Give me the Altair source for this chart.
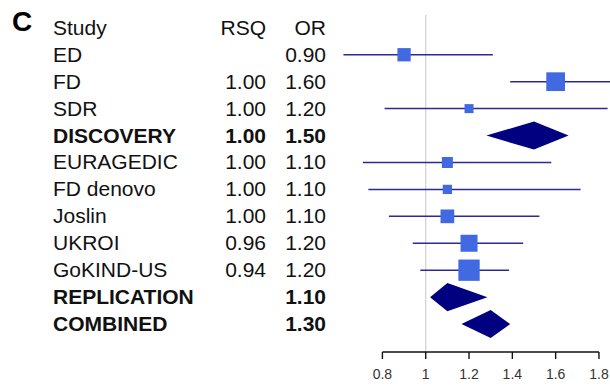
import altair as alt
import pandas as pd

# ---- data ----
studies = ["ED", "FD", "SDR", "DISCOVERY", "EURAGEDIC", "FD denovo", "Joslin",
           "UKROI", "GoKIND-US", "REPLICATION", "COMBINED"]
rsq_text = ["", "1.00", "1.00", "1.00", "1.00", "1.00", "1.00", "0.96", "0.94", "", ""]
or_text = ["0.90", "1.60", "1.20", "1.50", "1.10", "1.10", "1.10", "1.20", "1.20", "1.10", "1.30"]
or_est = [0.90, 1.60, 1.20, 1.50, 1.10, 1.10, 1.10, 1.20, 1.20, 1.10, 1.30]
ci_low = [0.62, 1.39, 0.81, 1.28, 0.71, 0.735, 0.83, 0.94, 0.975, 1.02, 1.165]
ci_high = [1.31, 1.95, 1.84, 1.66, 1.58, 1.715, 1.525, 1.45, 1.385, 1.285, 1.39]
weights = [17.7, 35.0, 8.1, None, 12.1, 8.6, 18.8, 28.9, 45.4, None, None]
is_summary = [False, False, False, True, False, False, False, False, False, True, True]
headers = ["Study", "RSQ", "OR"]
tick_values = [0.8, 1.0, 1.2, 1.4, 1.6, 1.8]
tick_labels = ["0.8", "1", "1.2", "1.4", "1.6", "1.8"]
ref_value = 1.0

W, H = 610, 386
AXIS_Y = 352
rows = list(range(1, len(studies) + 1))

df = pd.DataFrame({
    "study": studies, "rsq": rsq_text, "ortxt": or_text, "est": or_est,
    "lo": ci_low, "hi": ci_high, "w": weights, "summary": is_summary, "row": rows,
})

xs = alt.Scale(domain=[-0.966, 1.851], nice=False, zero=False)
ys = alt.Scale(domain=[-1.033, 13.30], reverse=True, nice=False, zero=False)

X = lambda f: alt.X(f, type="quantitative", scale=xs, axis=None)
Y = lambda f: alt.Y(f, type="quantitative", scale=ys, axis=None)

indiv = df[~df["summary"]]
summ = df[df["summary"]]

# diamonds as area polygons
half = 0.52
drows = []
for _, r in summ.iterrows():
    drows.append({"study": r["study"], "x": r["lo"], "y1": r["row"], "y2": r["row"]})
    drows.append({"study": r["study"], "x": r["est"], "y1": r["row"] - half, "y2": r["row"] + half})
    drows.append({"study": r["study"], "x": r["hi"], "y1": r["row"], "y2": r["row"]})
ddf = pd.DataFrame(drows)

ref = alt.Chart(pd.DataFrame({"v": [ref_value]})).mark_rule(
    color="#d0d0d0", strokeWidth=1.2
).encode(x=X("v:Q"), y=alt.value(15), y2=alt.value(AXIS_Y))

ci = alt.Chart(indiv).mark_rule(color="#2a2a9c", strokeWidth=1.5, clip=True).encode(
    x=X("lo:Q"), x2="hi:Q", y=Y("row:Q")
)

sq = alt.Chart(indiv).mark_square(color="#4169E1", opacity=1, filled=True, clip=True).encode(
    x=X("est:Q"), y=Y("row:Q"),
    size=alt.Size("w:Q", scale=alt.Scale(domain=[0, 45.4], range=[0, 454]), legend=None),
)

dia = alt.Chart(ddf).mark_area(color="#000080", orient="vertical").encode(
    x=X("x:Q"), y=Y("y1:Q"), y2="y2:Q", detail="study:N",
)

tdf = pd.DataFrame({"v": tick_values, "lab": tick_labels})
axis_line = alt.Chart(pd.DataFrame({"a": [min(tick_values)], "b": [max(tick_values)]})).mark_rule(
    color="#111111", strokeWidth=1.4
).encode(x=X("a:Q"), x2="b:Q", y=alt.value(AXIS_Y))
ticks = alt.Chart(tdf).mark_rule(color="#111111", strokeWidth=1.4).encode(
    x=X("v:Q"), y=alt.value(AXIS_Y), y2=alt.value(AXIS_Y + 7))
tick_text = alt.Chart(tdf).mark_text(
    font="Liberation Sans", fontSize=14, color="#333333", baseline="middle", align="center"
).encode(x=X("v:Q"), y=alt.value(AXIS_Y + 23), text="lab:N")

font = "Liberation Sans"
fs = 21
txt_kw = dict(font=font, fontSize=fs, color="#111111", baseline="middle", dy=1)

hdr = alt.Chart(pd.DataFrame({"h": headers, "row": [0, 0, 0]}))
hdr_study = hdr.transform_filter("datum.h == 'Study'").mark_text(align="left", **txt_kw).encode(
    x=alt.value(53), y=Y("row:Q"), text="h:N")
hdr_rsq = hdr.transform_filter("datum.h == 'RSQ'").mark_text(align="right", **txt_kw).encode(
    x=alt.value(266), y=Y("row:Q"), text="h:N")
hdr_or = hdr.transform_filter("datum.h == 'OR'").mark_text(align="right", **txt_kw).encode(
    x=alt.value(326), y=Y("row:Q"), text="h:N")

layers = [ref, ci, sq, dia, axis_line, ticks, tick_text, hdr_study, hdr_rsq, hdr_or]
for flag, weight in [(False, "normal"), (True, "bold")]:
    sub = alt.Chart(df[df["summary"] == flag])
    layers.append(sub.mark_text(align="left", fontWeight=weight, **txt_kw).encode(
        x=alt.value(53), y=Y("row:Q"), text="study:N"))
    layers.append(sub.mark_text(align="right", fontWeight=weight, **txt_kw).encode(
        x=alt.value(266), y=Y("row:Q"), text="rsq:N"))
    layers.append(sub.mark_text(align="right", fontWeight=weight, **txt_kw).encode(
        x=alt.value(326), y=Y("row:Q"), text="ortxt:N"))

panel = alt.Chart(pd.DataFrame({"t": ["C"]})).mark_text(
    font=font, fontSize=28, fontWeight="bold", color="#000000", align="left", baseline="middle"
).encode(x=alt.value(12), y=alt.value(23), text="t:N")
layers.append(panel)

chart = alt.layer(*layers).properties(
    width=W, height=H, autosize=alt.AutoSizeParams(type="none"), padding=0,
    background="white",
).configure_view(stroke=None)

chart.save("out.html", embed_options={"renderer": "svg", "actions": False})
